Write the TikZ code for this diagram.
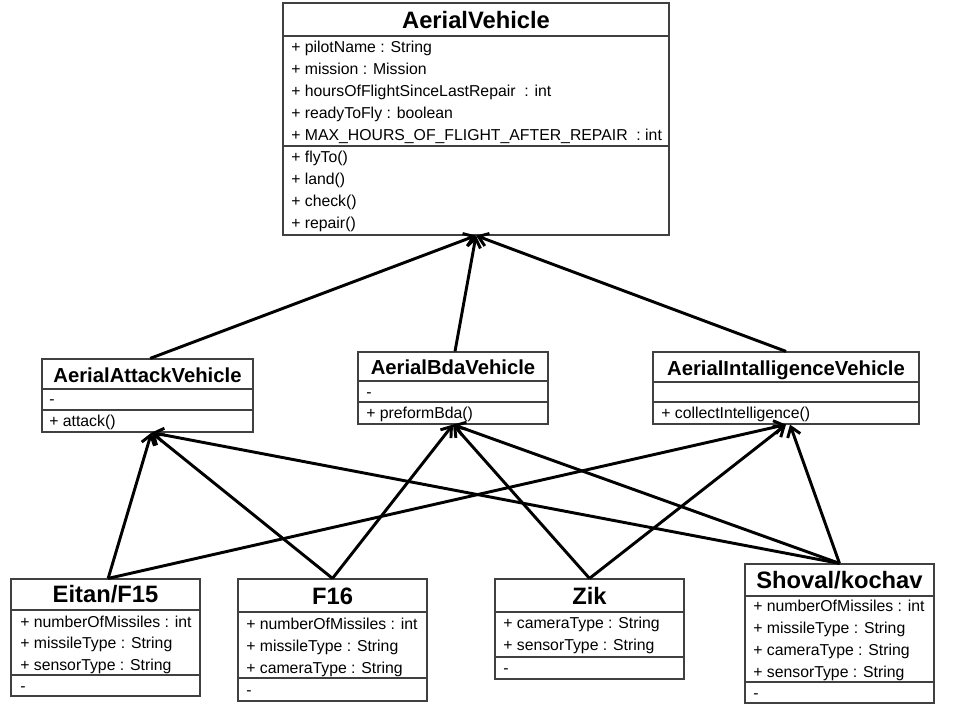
\documentclass[tikz,border=0pt]{standalone}
\usepackage{fontspec}
\setmainfont{Liberation Sans}
\usetikzlibrary{arrows.meta,fit}
\begin{document}
\begin{tikzpicture}[x=0.75pt,y=-0.75pt,
  box/.style={draw=black!75, line width=0.9pt, inner sep=0pt, fill=white},
  div/.style={draw=black!75, line width=0.9pt},
  attr/.style={anchor=west, inner sep=0pt, font=\fontsize{11.85}{13}\selectfont, text height=8.5pt, text depth=0pt},
  ttl/.style={inner sep=0pt, font=\fontsize{17.8}{20}\selectfont\bfseries, text height=12.8pt, text depth=0pt},
  mttl/.style={inner sep=0pt, font=\fontsize{15.2}{18}\selectfont\bfseries, text height=10.9pt, text depth=0pt},
  inh/.style={-{Straight Barb[length=7pt,width=10pt]}, line width=2.2pt, black}
]
\useasboundingbox (0,0) rectangle (960,720);
\fill[white] (0,0) rectangle (960,720);

% ---------- AerialVehicle ----------
\node[box, fit={(283,3) (669,235)}] (av) {};
\draw[div] (283,36) -- (669,36);
\draw[div] (283,146) -- (669,146);
\node[ttl] (avt) at (476,20) {AerialVehicle};
\node[attr] (ava1) at (291,47) {+ pilotName : String};
\node[attr] (ava2) at (291,69) {+ mission : Mission};
\node[attr] (ava3) at (291,91) {+ hoursOfFlightSinceLastRepair \ : int};
\node[attr] (ava4) at (291,113) {+ readyToFly : boolean};
\node[attr] (ava5) at (291,135) {+ MAX\_HOURS\_OF\_FLIGHT\_AFTER\_REPAIR \ : int};
\node[attr] (avm1) at (291,157) {+ flyTo()};
\node[attr] (avm2) at (291,179) {+ land()};
\node[attr] (avm3) at (291,201) {+ check()};
\node[attr] (avm4) at (291,223) {+ repair()};

% ---------- AerialAttackVehicle ----------
\node[box, fit={(42,359) (253,432)}] (atk) {};
\draw[div] (42,389) -- (253,389);
\draw[div] (42,410) -- (253,410);
\node[mttl] (atkt) at (147.5,375) {AerialAttackVehicle};
\node[attr] (atka) at (49,399) {-};
\node[attr] (atkm) at (49,421) {+ attack()};

% ---------- AerialBdaVehicle ----------
\node[box, fit={(358,352) (548,424)}] (bda) {};
\draw[div] (358,381) -- (548,381);
\draw[div] (358,402) -- (548,402);
\node[mttl] (bdat) at (453,367) {AerialBdaVehicle};
\node[attr] (bdaa) at (366,392) {-};
\node[attr] (bdam) at (366,413) {+ preformBda()};

% ---------- AerialIntalligenceVehicle ----------
\node[box, fit={(653,352) (919,424)}] (intel) {};
\draw[div] (653,382) -- (919,382);
\draw[div] (653,402) -- (919,402);
\node[mttl] (intelt) at (786,368) {AerialIntalligenceVehicle};
\node[attr] (intelm) at (661,413) {+ collectIntelligence()};

% ---------- Eitan/F15 ----------
\node[box, fit={(11,579) (200,696)}] (eitan) {};
\draw[div] (11,610) -- (200,610);
\draw[div] (11,675) -- (200,675);
\node[ttl] (eitant) at (105.5,594) {Eitan/F15};
\node[attr] (eitana1) at (20,622) {+ numberOfMissiles : int};
\node[attr] (eitana2) at (20,643) {+ missileType : String};
\node[attr] (eitana3) at (20,665) {+ sensorType : String};
\node[attr] (eitanm) at (20,686) {-};

% ---------- F16 ----------
\node[box, fit={(238,579) (427,701)}] (f16) {};
\draw[div] (238,612) -- (427,612);
\draw[div] (238,678) -- (427,678);
\node[ttl] (f16t) at (332.5,596) {F16};
\node[attr] (f16a1) at (246,624) {+ numberOfMissiles : int};
\node[attr] (f16a2) at (246,646) {+ missileType : String};
\node[attr] (f16a3) at (246,668) {+ cameraType : String};
\node[attr] (f16m) at (246,690) {-};

% ---------- Zik ----------
\node[box, fit={(495,579) (684,679)}] (zik) {};
\draw[div] (495,612) -- (684,612);
\draw[div] (495,657) -- (684,657);
\node[ttl] (zikt) at (589.5,596) {Zik};
\node[attr] (zika1) at (503,623) {+ cameraType : String};
\node[attr] (zika2) at (503,645) {+ sensorType : String};
\node[attr] (zikm) at (503,668) {-};

% ---------- Shoval/kochav ----------
\node[box, fit={(745,564) (934,703)}] (shv) {};
\draw[div] (745,596) -- (934,596);
\draw[div] (745,682) -- (934,682);
\node[ttl] (shvt) at (839.5,580) {Shoval/kochav};
\node[attr] (shva1) at (753,606) {+ numberOfMissiles : int};
\node[attr] (shva2) at (753,628) {+ missileType : String};
\node[attr] (shva3) at (753,650) {+ cameraType : String};
\node[attr] (shva4) at (753,672) {+ sensorType : String};
\node[attr] (shvm) at (753,693) {-};

% ---------- inheritance arrows ----------
\draw[inh] ([xshift=2pt]atk.north) -- (av.south);
\draw[inh] ([xshift=1.5pt]bda.north) -- (av.south);
\draw[inh] (intel.north) -- (av.south);

\draw[inh] ([xshift=2pt]eitan.north) -- ([xshift=3pt]atk.south);
\draw[inh] ([xshift=2pt]eitan.north) -- (intel.south);
\draw[inh] (f16.north) -- ([xshift=3pt]atk.south);
\draw[inh] (f16.north) -- (bda.south);
\draw[inh] (zik.north) -- (bda.south);
\draw[inh] (zik.north) -- (intel.south);
\draw[inh] (shv.north) -- ([xshift=3pt]atk.south);
\draw[inh] (shv.north) -- (bda.south);
\draw[inh] (shv.north) -- ([xshift=3pt]intel.south);
\end{tikzpicture}
\end{document}
